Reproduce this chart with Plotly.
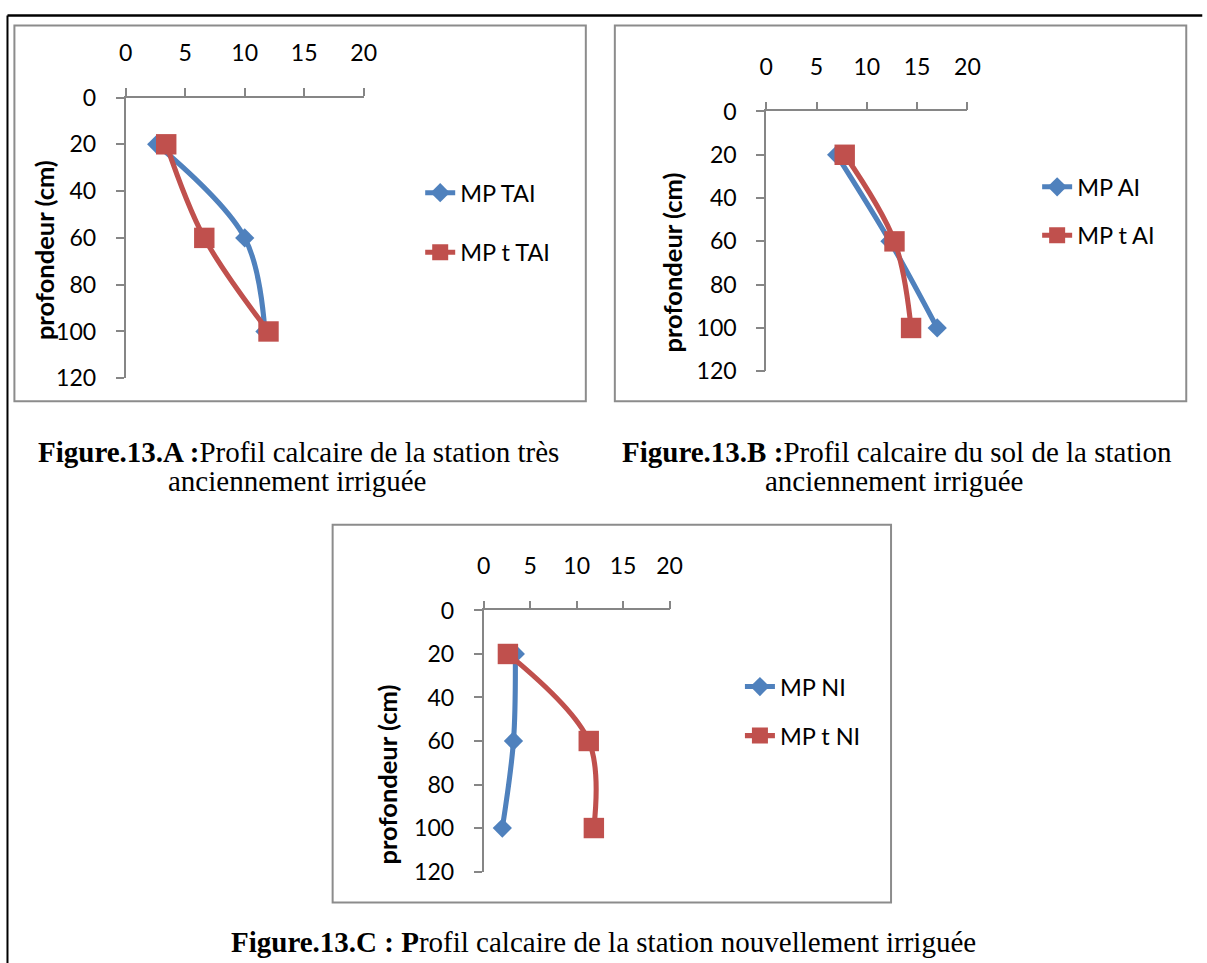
import plotly.graph_objects as go

# ---------------- data ----------------
depth = [20, 60, 100]
x_ticks = [0, 5, 10, 15, 20]
y_ticks = [0, 20, 40, 60, 80, 100, 120]

mp_tai = [2.6, 10.0, 11.7]
mp_t_tai = [3.4, 6.6, 12.0]
mp_ai = [7.0, 12.3, 17.0]
mp_t_ai = [7.8, 12.75, 14.4]
mp_ni = [3.4, 3.2, 2.0]
mp_t_ni = [2.6, 11.3, 11.85]

names_a = ["MP TAI", "MP t TAI"]
names_b = ["MP AI", "MP t AI"]
names_c = ["MP NI", "MP t NI"]
y_title = "profondeur (cm)"

# ---------------- page geometry ----------------
# The photographed page shows the figure slightly reduced and offset;
# target positions (in photo pixels) are mapped back to figure pixels.
AX, BX = 0.983, 8.6
AY, BY = 0.975, 11.5
W, H = 1228, 988
S = 1 / 0.979          # size compensation for fonts / markers

BLUE = "#4F81BD"
RED = "#C0504D"
AXC = "#868686"
FONT = "Lato"
SERIF = "Liberation Serif"
TICK_SIZE = 22.6 * S
LEG_SIZE = 23 * S


def fx(t):
    return (t - BX) / AX


def fy(t):
    return (t - BY) / AY


def px(t):
    return min(max(fx(t) / W, 0.0004), 0.9996)


def py(t):
    return min(max(1 - fy(t) / H, 0.0004), 0.9996)


fig = go.Figure()

panels = [
    ("x", "y", "legend", mp_tai, mp_t_tai, names_a),
    ("x2", "y2", "legend2", mp_ai, mp_t_ai, names_b),
    ("x3", "y3", "legend3", mp_ni, mp_t_ni, names_c),
]

for i, (xa, ya, lg, blue, red, names) in enumerate(panels):
    fig.add_trace(go.Scatter(
        x=blue, y=depth, mode="lines+markers", name=names[0],
        xaxis=xa, yaxis=ya, legend=lg, legendgroup=f"b{i}",
        line=dict(color=BLUE, width=5 * S, shape="spline", smoothing=1),
        marker=dict(symbol="diamond", size=14.5 * S, color=BLUE),
        cliponaxis=False,
    ))
    fig.add_trace(go.Scatter(
        x=red, y=depth, mode="lines+markers", name=names[1],
        xaxis=xa, yaxis=ya, legend=lg, legendgroup=f"r{i}",
        line=dict(color=RED, width=5 * S, shape="spline", smoothing=1),
        marker=dict(symbol="square", size=20 * S, color=RED),
        cliponaxis=False,
    ))

# x of value 0, x of value 20, y of depth 0, y of depth 120 (photo pixels)
geo = {
    "1": (127.3, 365.0, 94.3, 376.0),
    "2": (767.3, 968.3, 108.3, 369.0),
    "3": (485.0, 670.7, 609.0, 871.0),
}

layout_axes = {}
for k, (x0, x1, y0, y1) in geo.items():
    sfx = "" if k == "1" else k
    layout_axes[f"xaxis{sfx}"] = dict(
        domain=[px(x0), px(x1)], anchor=f"y{sfx}", side="top",
        range=[0, 20], tickvals=x_ticks, ticks="outside", ticklen=8 * S,
        tickwidth=1.5, tickcolor=AXC, showline=True, linecolor=AXC,
        linewidth=1.5, showgrid=False, zeroline=False,
        tickfont=dict(family=FONT, size=TICK_SIZE, color="#000"),
        ticklabelstandoff=17, fixedrange=True,
    )
    layout_axes[f"yaxis{sfx}"] = dict(
        domain=[py(y1), py(y0)], anchor=f"x{sfx}",
        range=[120, 0], tickvals=y_ticks, ticks="outside", ticklen=8 * S,
        tickwidth=1.5, tickcolor=AXC, showline=True, linecolor=AXC,
        linewidth=1.5, showgrid=False, zeroline=False,
        tickfont=dict(family=FONT, size=TICK_SIZE, color="#000"),
        ticklabelstandoff=15, fixedrange=True,
    )

legend_common = dict(
    bgcolor="rgba(0,0,0,0)", borderwidth=0, xanchor="left", yanchor="top",
    font=dict(family=FONT, size=LEG_SIZE, color="#000"),
    traceorder="grouped", orientation="v",
)

fig.update_layout(
    width=W, height=H,
    margin=dict(l=0, r=0, t=0, b=0),
    paper_bgcolor="white", plot_bgcolor="white",
    showlegend=True,
    legend=dict(legend_common, x=px(421.5), y=py(168), tracegroupgap=26),
    legend2=dict(legend_common, x=px(1038), y=py(162), tracegroupgap=15),
    legend3=dict(legend_common, x=px(741), y=py(663.5), tracegroupgap=15.5),
    **layout_axes,
)

shapes = [
    dict(type="rect", xref="paper", yref="paper", x0=px(16), x1=px(587), y0=py(399), y1=py(22),
         line=dict(color="#8C8C8C", width=2), layer="below"),
    dict(type="rect", xref="paper", yref="paper", x0=px(616), x1=px(1187), y0=py(399), y1=py(22),
         line=dict(color="#8C8C8C", width=2), layer="below"),
    dict(type="rect", xref="paper", yref="paper", x0=px(334), x1=px(892), y0=py(902), y1=py(523),
         line=dict(color="#8C8C8C", width=2), layer="below"),
    dict(type="line", xref="paper", yref="paper", x0=px(5), x1=px(1203), y0=py(7), y1=py(7),
         line=dict(color="#000", width=2.5)),
    dict(type="line", xref="paper", yref="paper", x0=px(5.5), x1=px(5.5), y0=py(7), y1=py(970),
         line=dict(color="#000", width=2)),
]
fig.update_layout(shapes=shapes)

annotations = []
for (cx, cy) in [(45, 247), (673, 260), (388, 774)]:
    annotations.append(dict(
        text=f"<b>{y_title}</b>", xref="paper", yref="paper",
        x=px(cx), y=py(cy), xanchor="center", yanchor="middle",
        textangle=-90, showarrow=False,
        font=dict(family=FONT, size=25 * S, color="#000"),
    ))

caps = [
    ("<b>Figure.13.A :</b>Profil calcaire de la station très", 300, 450),
    ("anciennement irriguée", 298, 479),
    ("<b>Figure.13.B :</b>Profil calcaire du sol de la station", 898, 450),
    ("anciennement irriguée", 895, 479),
    ("<b>Figure.13.C : P</b>rofil calcaire de la station nouvellement irriguée", 605, 942),
]
for t, cx, cy in caps:
    annotations.append(dict(
        text=t, xref="paper", yref="paper", x=px(cx), y=py(cy),
        xanchor="center", yanchor="middle", showarrow=False,
        font=dict(family=SERIF, size=29, color="#000"),
    ))
fig.update_layout(annotations=annotations)

fig.write_html("out.html", config={"displayModeBar": False})
